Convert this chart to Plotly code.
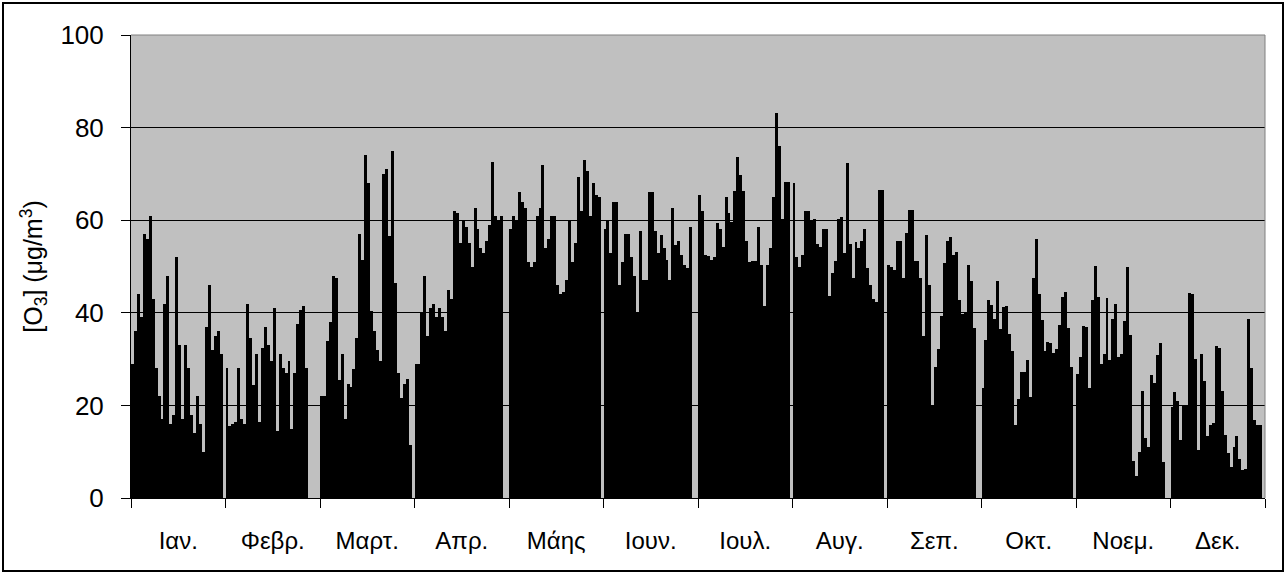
import plotly.graph_objects as go

months = ["Ιαν.", "Φεβρ.", "Μαρτ.", "Απρ.", "Μάης", "Ιουν.", "Ιουλ.", "Αυγ.", "Σεπ.", "Οκτ.", "Νοεμ.", "Δεκ."]

jan = [29, 36, 44, 39, 57, 56, 61, 43, 28, 22, 17, 42, 48, 16, 18, 52, 33, 17, 33, 28, 18, 14, 22, 16, 10, 37, 46, 32, 35, 36, 31]
feb = [28, 15.5, 16, 16.5, 28, 17, 16, 42, 34.5, 24.5, 31, 16.5, 32.5, 37, 33, 29.5, 41, 14.5, 31, 28, 27, 29.5, 15, 27, 37.5, 40.5, 41.5, 28]
mar = [22, 22, 34, 38, 48, 47.5, 25.5, 31, 17, 24.6, 24, 27.8, 34.5, 57, 51.4, 74, 68, 40.4, 36, 32, 29.5, 70, 71, 56.5, 75, 46.4, 27, 21.6, 24.6, 25.7, 11.5]
apr = [29, 29, 40, 48, 35, 41, 42, 39, 41, 39, 36, 45, 43, 62, 61.5, 55, 60, 58.6, 55, 50, 62.6, 58, 54, 53, 55.5, 59, 72.5, 61, 60, 61]
may = [58, 61, 60, 66, 64, 62.6, 51, 50, 51, 61, 62.6, 72, 54, 56, 61, 61, 46, 44, 44.6, 47, 60, 51, 55, 69.4, 62, 73, 70.6, 61, 68, 65.5, 65]
jun = [58, 60, 53, 64, 64, 46, 51, 57, 57, 52, 48, 40, 57.6, 47, 47, 66, 66, 57.6, 53, 56.7, 54, 51.4, 47, 62.6, 54.7, 55.5, 52.4, 50.4, 49.6, 58.6]
jul = [65.5, 62, 52.4, 52.2, 51.4, 52, 59.5, 58, 54.3, 65.1, 61.5, 59.7, 66.2, 73.7, 69.8, 66.2, 55.5, 50.9, 51.1, 51.2, 58.6, 50.4, 41.4, 50.4, 54, 65.1, 83.2, 76.1, 60.3, 68.2, 68.2]
aug = [68, 52, 50, 52.4, 62, 62, 60, 60.3, 54.8, 54.3, 58, 58, 43.7, 48.7, 51.2, 60.3, 60.6, 53, 72.3, 54.8, 47.6, 55.3, 54, 55.5, 58, 49.6, 46, 43, 42.4, 66.5, 66.5]
sep = [50.4, 50, 49.3, 55.5, 55.5, 47.6, 57.2, 62.2, 62.2, 51.2, 51.2, 47.6, 35, 56.7, 46, 19.8, 28.2, 32.2, 39.4, 50.7, 55.5, 56.3, 52.4, 53.2, 42.8, 39.7, 39.9, 50.4, 46.8, 36.8]
oct_ = [23.7, 34.2, 42.8, 41.7, 38.6, 46.8, 36.5, 41.2, 41.4, 35.4, 31.7, 15.8, 21.4, 27.3, 27.3, 29.7, 21.9, 47.6, 55.9, 44, 38.5, 31.8, 33.6, 33.5, 31.4, 32.2, 37.4, 43.5, 44.4, 36.8, 28.2]
nov = [26.8, 30.4, 37.1, 37, 23.7, 42.7, 50.2, 43.5, 29, 31.2, 43.1, 29.7, 38.7, 41.9, 30.4, 31.2, 38.3, 49.9, 35.1, 7.9, 4.7, 9.9, 23.2, 12.9, 11, 26.5, 24.8, 30.8, 33.5, 7.8]
dec = [19.6, 22.9, 20.9, 12.6, 20.1, 20.1, 44.3, 44, 30.1, 10.3, 31.2, 25.3, 13.4, 15.7, 16.2, 32.8, 32.5, 23.2, 13.7, 9.8, 6.7, 11, 13.4, 8.5, 6, 6.2, 38.7, 28.1, 16.9, 15.8, 15.8]

monthly = [jan, feb, mar, apr, may, jun, jul, aug, sep, oct_, nov, dec]

SLOTS = 32  # category slots per month on the chart's axis
xs, ys = [], []
for m, vals in enumerate(monthly):
    for d, v in enumerate(vals):
        xs.append(m * SLOTS + d)
        ys.append(v)

fig = go.Figure(go.Bar(x=xs, y=ys, marker=dict(color="black", line=dict(width=0))))

W, H = 1287, 574
L, R, T, B = 131, 22, 35, 76
pw, ph = W - L - R, H - T - B

font = "Liberation Sans, Arial, sans-serif"
fig.update_layout(
    width=W, height=H,
    margin=dict(l=L, r=R, t=T, b=B, pad=0, autoexpand=False),
    paper_bgcolor="white",
    plot_bgcolor="#C0C0C0",
    bargap=0,
    showlegend=False,
    font=dict(family=font, color="black"),
    xaxis=dict(
        automargin=False,
        range=[-0.5, 12 * SLOTS - 0.5],
        tickvals=[m * SLOTS + 15.5 for m in range(12)],
        ticktext=months,
        ticks="",
        ticklabelstandoff=21,
        tickfont=dict(size=24, family=font),
        showgrid=False,
        zeroline=False,
        showline=True, linecolor="black", linewidth=1,
        minor=dict(tickvals=[m * SLOTS - 0.5 for m in range(13)], ticks="outside",
                   ticklen=9, tickcolor="black", tickwidth=1, showgrid=False),
    ),
    yaxis=dict(
        automargin=False,
        range=[0, 100],
        tickvals=[0, 20, 40, 60, 80, 100],
        ticks="outside", ticklen=9, tickcolor="black", tickwidth=1,
        ticklabelstandoff=12,
        tickfont=dict(size=26, family=font),
        showgrid=True, gridcolor="black", gridwidth=1,
        zeroline=False,
        showline=True, linecolor="black", linewidth=1,
        title=dict(text="[O<sub>3</sub>] (μg/m<sup>3</sup>)", font=dict(size=25, family=font), standoff=10),
    ),
    shapes=[
        dict(type="line", xref="paper", yref="paper", x0=0, x1=1, y0=1, y1=1,
             line=dict(color="#808080", width=1)),
        dict(type="line", xref="paper", yref="paper", x0=1, x1=1, y0=0, y1=1,
             line=dict(color="#808080", width=1)),
        dict(type="rect", xref="paper", yref="paper",
             x0=(3 - L) / pw, x1=(1283 - L) / pw,
             y0=-(B - 3) / ph, y1=1 + (T - 3) / ph,
             line=dict(color="black", width=2)),
    ],
)

fig.write_html("out.html", config={"displayModeBar": False},
               post_script="document.body.style.margin='0';document.body.style.overflow='hidden';")
